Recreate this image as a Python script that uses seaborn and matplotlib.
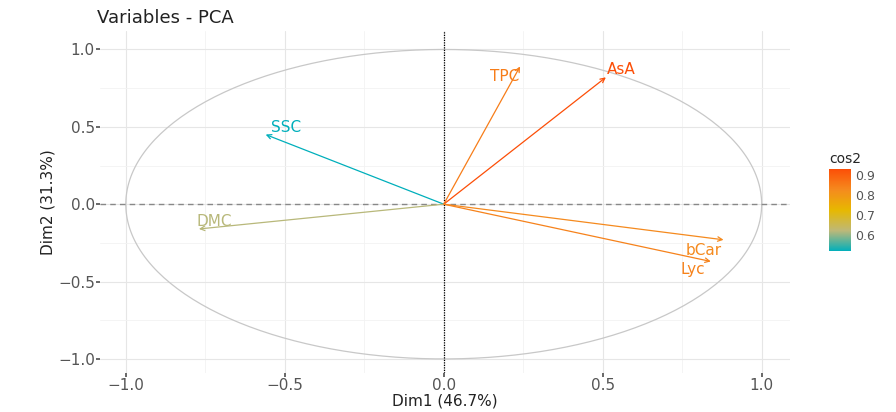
import numpy as np
import pandas as pd
import matplotlib.pyplot as plt
import seaborn as sns
from matplotlib.colors import LinearSegmentedColormap, Normalize
from matplotlib.cm import ScalarMappable

# 变量坐标 (Dim1, Dim2)
variables = ['TPC', 'AsA', 'SSC', 'DMC', 'bCar', 'Lyc']
dim1 = [0.24, 0.51, -0.56, -0.77, 0.88, 0.84]
dim2 = [0.89, 0.82, 0.45, -0.16, -0.23, -0.37]
dim1_label = 'Dim1 (46.7%)'
dim2_label = 'Dim2 (31.3%)'

df = pd.DataFrame({'var': variables, 'x': dim1, 'y': dim2})
df['cos2'] = df['x'] ** 2 + df['y'] ** 2

sns.set_theme(style='whitegrid')
plt.rcParams['font.family'] = ['DejaVu Sans']

# 渐变色（近似Lab插值）
cmap = LinearSegmentedColormap.from_list(
    'grad', [(0.0, '#00AFBB'), (0.25, '#BDB878'), (0.5, '#E7B800'),
             (0.75, '#F58A1E'), (1.0, '#FC4E07')])
norm = Normalize(vmin=df['cos2'].min(), vmax=df['cos2'].max())

fig = plt.figure(figsize=(8.96, 4.12), dpi=100)
ax = fig.add_axes([0.112, 0.095, 0.77, 0.83])

# 相关圆
t = np.linspace(0, 2 * np.pi, 300)
circ = pd.DataFrame({'cx': np.cos(t), 'cy': np.sin(t)})
sns.lineplot(data=circ, x='cx', y='cy', sort=False, estimator=None, ax=ax,
             color='#c8c8c8', lw=0.9)

ax.axhline(0, color='#888888', ls=(0, (4, 3)), lw=1)
ax.axvline(0, color='black', ls=(0, (1, 1)), lw=0.9)

# 箭头和标签
offsets = {'TPC': (-15, -10), 'AsA': (15, 8), 'SSC': (20, 7), 'DMC': (15, 7),
           'bCar': (-20, -11), 'Lyc': (-18, -8)}
for _, r in df.iterrows():
    c = cmap(norm(r['cos2']))
    ax.annotate('', xy=(r['x'], r['y']), xytext=(0, 0),
                arrowprops=dict(arrowstyle='->', color=c, lw=0.9, shrinkA=0, shrinkB=0,
                                mutation_scale=8))
    ox, oy = offsets[r['var']]
    ax.annotate(r['var'], xy=(r['x'], r['y']), xytext=(ox, oy), textcoords='offset pixels',
                ha='center', va='center', color=c, fontsize=11)

ax.set_xlim(-1.08, 1.09)
ax.set_ylim(-1.09, 1.12)
ax.set_xticks([-1.0, -0.5, 0.0, 0.5, 1.0])
ax.set_yticks([-1.0, -0.5, 0.0, 0.5, 1.0])
ax.set_xticks([-0.75, -0.25, 0.25, 0.75], minor=True)
ax.set_yticks([-0.75, -0.25, 0.25, 0.75], minor=True)
ax.grid(which='major', color='#e6e6e6', lw=0.8)
ax.grid(which='minor', color='#f2f2f2', lw=0.6)
for s in ax.spines.values():
    s.set_visible(False)
ax.tick_params(axis='both', which='major', labelsize=11, labelcolor='#555555',
               length=3, color='#555555', left=True, bottom=True, pad=1)
ax.tick_params(which='minor', length=0)
ax.set_xlabel(dim1_label, fontsize=11, color='#222222', labelpad=0)
ax.set_ylabel(dim2_label, fontsize=11, color='#222222', labelpad=2)
ax.set_title('Variables - PCA', loc='left', fontsize=13, color='#222222', x=-0.005, pad=6)

# 颜色条
cax = fig.add_axes([0.925, 0.39, 0.025, 0.2])
sm = ScalarMappable(norm=norm, cmap=cmap)
cb = fig.colorbar(sm, cax=cax, ticks=[0.6, 0.7, 0.8, 0.9])
cb.outline.set_visible(False)
cb.ax.tick_params(labelsize=9, length=0, labelcolor='#555555', pad=3)
cax.set_title('cos2', fontsize=10, loc='left', pad=4)

fig.savefig('out.png', dpi=100)
